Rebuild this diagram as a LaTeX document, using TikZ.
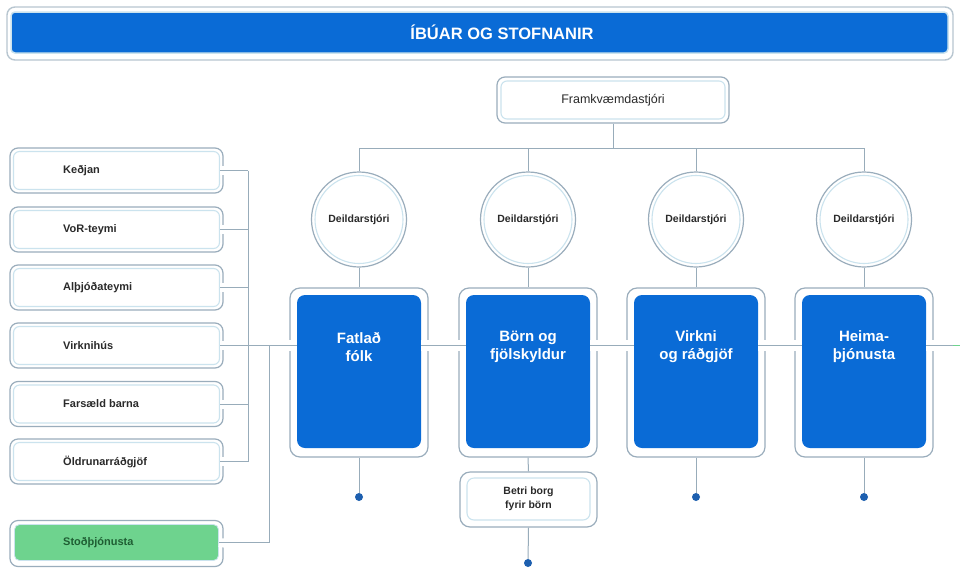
\documentclass[tikz,border=0pt]{standalone}
\usepackage{fontspec}
\setmainfont{Liberation Sans}
\usetikzlibrary{calc}
\definecolor{bblue}{HTML}{0A6BD6}
\definecolor{bgray}{HTML}{9AADBC}
\definecolor{ringc}{HTML}{CBE3EE}
\definecolor{linec}{HTML}{98ACBA}
\definecolor{dotc}{HTML}{1D5FAF}
\definecolor{gfill}{HTML}{6ED38E}
\definecolor{gtext}{HTML}{1F5E33}
\definecolor{txtc}{HTML}{2A2A2A}
\begin{document}
\begin{tikzpicture}[x=1pt,y=-1pt,
  outerbox/.style={draw=bgray, line width=1.2pt, fill=white, rounded corners=8pt, inner sep=0pt},
  innerbox/.style={draw=ringc, line width=1.1pt, rounded corners=6pt, inner sep=0pt},
  lout/.style={outerbox, minimum width=213pt, minimum height=45pt},
  lin/.style={innerbox, minimum width=206pt, minimum height=38pt},
  ltext/.style={anchor=west, inner sep=0pt, text=txtc, font=\bfseries\fontsize{11}{13}\selectfont},
  bout/.style={outerbox, rounded corners=10pt, minimum width=138pt, minimum height=169pt},
  bin/.style={fill=bblue, draw=none, rounded corners=8pt, minimum width=124pt, minimum height=153pt, inner sep=0pt},
  btext/.style={text=white, align=center, inner sep=0pt, font=\bfseries\fontsize{15}{18}\selectfont},
  cout/.style={circle, draw=bgray, line width=1.2pt, fill=white, minimum size=95pt, inner sep=0pt},
  cin/.style={circle, draw=ringc, line width=1.1pt, minimum size=88pt, inner sep=0pt, text=txtc, font=\bfseries\fontsize{10.5}{12}\selectfont},
  conn/.style={draw=linec, line width=1pt},
  wo/.style={draw=white, line width=11pt},
  dotn/.style={circle, fill=dotc, minimum size=8pt, inner sep=0pt}
]
\useasboundingbox (0,0) rectangle (960,568);
\fill[white] (0,0) rectangle (960,568);

% banner
\node[draw=bgray!70, line width=1.4pt, fill=white, rounded corners=8pt, minimum width=946pt, minimum height=53pt, inner sep=0pt] (bannero) at (480,33.5) {};
\node[fill=bblue, draw=ringc, line width=1.5pt, rounded corners=4pt, minimum width=937pt, minimum height=41pt, inner sep=0pt] (banner) at (479.5,32.5) {};
\node[text=white, inner sep=0pt, font=\bfseries\fontsize{16.5}{18}\selectfont] (bannert) at (502,32) {ÍBÚAR OG STOFNANIR};

% Framkvaemdastjori
\node[outerbox, minimum width=232pt, minimum height=46pt] (fk) at (613,100) {};
\node[innerbox, minimum width=224pt, minimum height=38pt, text=txtc, font=\fontsize{12.5}{14}\selectfont] (fki) at (613,100) {Framkvæmdastjóri};

% circles
\foreach \i/\x in {1/359,2/528,3/696,4/864}{
  \node[cout] (d\i) at (\x,219.5) {};
  \node[cin] (d\i i) at (\x,219.5) {Deildarstjóri};
}

% blue boxes
\foreach \i/\x in {1/359,2/528,3/696,4/864}{
  \node[bout] (b\i) at (\x,372.5) {};
  \node[bin] (b\i i) at (\x,371.5) {};
}
\node[btext] (t1) at (359,347) {Fatlað\\fólk};
\node[btext] (t2) at (528,347) {Börn og\\fjölskyldur};
\node[btext] (t3) at (696,347) {Virkni\\og ráðgjöf};
\node[btext] (t4) at (864,347) {Heima-\\þjónusta};

% Betri borg
\node[outerbox, rounded corners=10pt, minimum width=137pt, minimum height=55pt] (betri) at (528.5,499.5) {};
\node[innerbox, rounded corners=7pt, minimum width=123pt, minimum height=42pt, text=txtc, align=center, font=\bfseries\fontsize{10.5}{14}\selectfont] (betrii) at (528.5,499) {Betri borg\\fyrir börn};

% left boxes
\foreach \i/\y/\t in {1/170.5/Keðjan,2/229.5/VoR-teymi,3/287.5/Alþjóðateymi,4/345.5/Virknihús,5/404/Farsæld barna,6/461.5/Öldrunarráðgjöf}{
  \node[lout] (l\i) at (116.5,\y) {};
  \node[lin] (l\i i) at (116.5,\y) {};
  \node[ltext] (lt\i) at (63,\y) {\t};
}
\node[lout, minimum height=46pt] (stod) at (116.5,543.5) {};
\node[fill=gfill, draw=ringc, line width=0.8pt, rounded corners=5pt, minimum width=204pt, minimum height=36pt, inner sep=0pt] (stodi) at (116.5,542.5) {};
\node[ltext, text=gtext] (stodt) at (63,542.5) {Stoðþjónusta};

% coordinates
\coordinate (hub) at (613,148);
\coordinate (busx) at (248,0);
\coordinate (stx) at (269,0);
\coordinate (my) at (0,345.5);
\coordinate (rend) at (960,345.5);
\coordinate (gend) at (953,345.5);

% dots
\node[dotn] (p1) at (359,497) {};
\node[dotn] (p2) at (528,563) {};
\node[dotn] (p3) at (696,497) {};
\node[dotn] (p4) at (864,497) {};

% whiteouts (border gaps)
\foreach \i in {1,2,3,4,5,6}{
  \draw[wo, line width=9pt] (l\i i.east) -- ([xshift=5pt]l\i.east);
}
\draw[wo, line width=9pt] (stodi.east) -- ([xshift=5pt]stod.east);
\foreach \i in {1,2,3,4}{
  \draw[wo] ([xshift=-6pt]b\i.west |- my) -- (b\i i.west |- my);
  \draw[wo] (b\i i.east |- my) -- ([xshift=6pt]b\i.east |- my);
}

% connectors top
\draw[conn] (fk.south) -- (hub);
\draw[conn] (d1.north) -- (d1.north |- hub) -- (d4.north |- hub) -- (d4.north);
\draw[conn] (d2.north) -- (d2.north |- hub);
\draw[conn] (d3.north) -- (d3.north |- hub);
\foreach \i in {1,2,3,4}{
  \draw[conn] (d\i.south) -- (b\i.north);
}
\draw[conn] (b1.south) -- (p1);
\draw[conn] (b3.south) -- (p3);
\draw[conn] (b4.south) -- (p4);
\draw[conn] (b2.south) -- (betri.north);
\draw[conn] (betri.south) -- (p2);

% left connectors
\foreach \i in {1,2,3,5,6}{
  \draw[conn] (l\i i.east) -- (l\i i.east -| busx);
}
\draw[conn] (l1i.east -| busx) -- (l6i.east -| busx);
\draw[conn] (stodi.east) -| (my -| stx);

% main line
\draw[conn] (l4i.east) -- (b1i.west |- my);
\draw[conn] (b1i.east |- my) -- (b2i.west |- my);
\draw[conn] (b2i.east |- my) -- (b3i.west |- my);
\draw[conn] (b3i.east |- my) -- (b4i.west |- my);
\draw[conn] (b4i.east |- my) -- (gend);
\draw[draw=gfill, line width=1.2pt] (gend) -- (rend);
\end{tikzpicture}
\end{document}
